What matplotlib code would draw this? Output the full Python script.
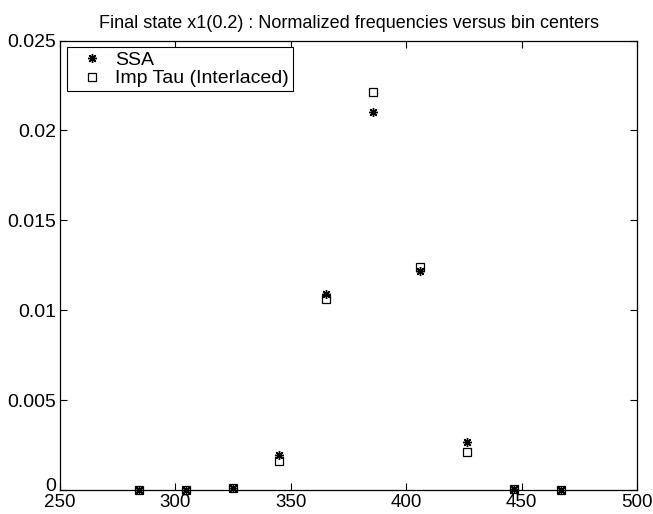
import matplotlib
matplotlib.use("Agg")
import matplotlib.pyplot as plt
import matplotlib.transforms as mtransforms
import numpy as np

# bin centers and normalized frequencies
bin_centers = [284.2, 304.5, 324.8, 345.1, 365.4, 385.7, 406.0, 426.3, 446.6, 466.9]
ssa_freq = [0.0, 0.0, 0.0001, 0.00192, 0.01091, 0.02102, 0.0122, 0.00266, 0.00008, 0.0]
imp_tau_freq = [0.0, 0.0, 0.0001, 0.00162, 0.01063, 0.02213, 0.01239, 0.0021, 0.00005, 0.0]

x_ticks = [250, 300, 350, 400, 450, 500]
y_ticks = [0, 0.005, 0.01, 0.015, 0.02, 0.025]
y_tick_labels = ['0', '0.005', '0.01', '0.015', '0.02', '0.025']

plt.rcParams['font.family'] = ['Liberation Sans', 'DejaVu Sans']

fig = plt.figure(figsize=(6.53, 5.14), dpi=100)
ax = fig.add_axes([0.0919, 0.0467, 0.8836, 0.8745])

# MATLAB style asterisk: 8 spokes
ax.plot(bin_centers, ssa_freq, linestyle='none', marker=(8, 2, 0), color='black',
        markersize=6.5, markeredgewidth=1.0, label='SSA', clip_on=False)
ax.plot(bin_centers, imp_tau_freq, linestyle='none', marker='s', markerfacecolor='none',
        markeredgecolor='black', markersize=5.2, markeredgewidth=0.9,
        label='Imp Tau (Interlaced)', clip_on=False)

ax.set_xlim(250, 500)
ax.set_ylim(0, 0.025)
ax.set_xticks(x_ticks)
ax.set_yticks(y_ticks)
ax.set_yticklabels(y_tick_labels)
ax.tick_params(direction='in', top=True, right=True, length=5, width=0.8,
               labelsize=14, pad=3)
ax.tick_params(axis='x', labelsize=13.5, pad=3)
for s in ax.spines.values():
    s.set_linewidth(0.9)

# nudge the "0" label up a little so it sits clear of "250"
zero_lbl = ax.get_yticklabels()[0]
zero_lbl.set_transform(zero_lbl.get_transform() +
                       mtransforms.ScaledTranslation(0, 4 / 72, fig.dpi_scale_trans))

ax.set_title('Final state x1(0.2) : Normalized frequencies versus bin centers',
             fontsize=13, pad=9)

leg = ax.legend(loc='upper left', fontsize=14, handlelength=2.2, handletextpad=0.1,
                borderpad=0.2, labelspacing=0.05, fancybox=False, framealpha=1,
                edgecolor='black', borderaxespad=0.35)
leg.get_frame().set_linewidth(0.8)

fig.savefig('out.png', dpi=100)
